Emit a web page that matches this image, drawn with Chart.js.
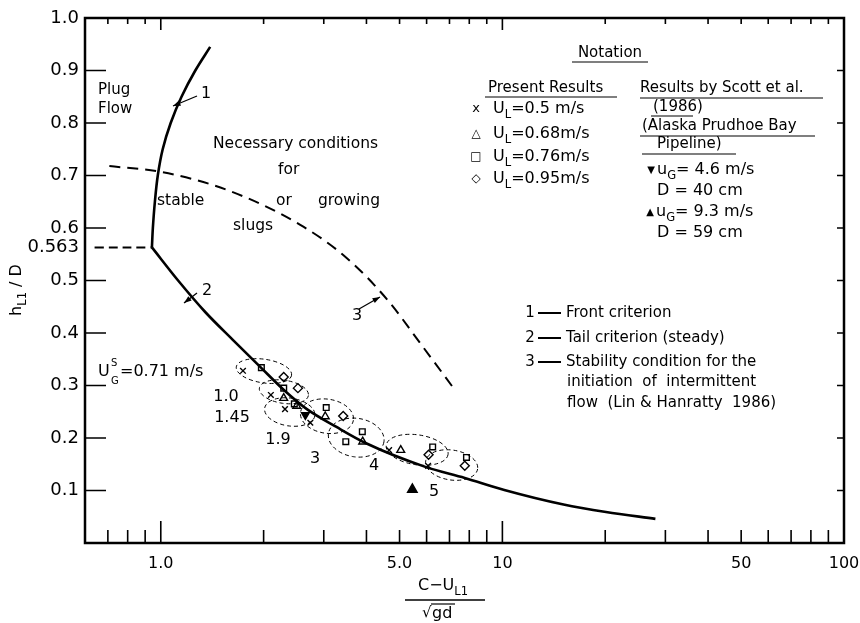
<!DOCTYPE html>
<html>
<head>
<meta charset="utf-8">
<script src="https://cdn.jsdelivr.net/npm/chart.js@4.4.1/dist/chart.umd.min.js"></script>
<style>
  html, body { margin: 0; padding: 0; background: #fff; }
</style>
</head>
<body>
<canvas id="chart" width="860" height="623"></canvas>
<script>
const FONT = '"DejaVu Sans", sans-serif';

// axis ranges and ticks
const xMin = 0.64;
const xMax = 100;
const xTickValues = [1, 5, 10, 50, 100];
const xTickLabels = ['1.0', '5.0', '10', '50', '100'];
const xMinorTicks = [0.7, 0.8, 0.9, 2, 3, 4, 5, 6, 7, 8, 9, 20, 30, 40, 50, 60, 70, 80, 90];
const xMajorTicks = [1, 10];
const yTickValues = [0.1, 0.2, 0.3, 0.4, 0.5, 0.563, 0.6, 0.7, 0.8, 0.9, 1.0];
const yMarkTicks = [0.1, 0.2, 0.3, 0.4, 0.5, 0.6, 0.7, 0.8, 0.9];

// curve 1 - front criterion
const frontX = [0.942, 0.948, 0.961, 0.98, 1.013, 1.069, 1.15, 1.262, 1.395];
const frontY = [0.563, 0.6, 0.65, 0.7, 0.75, 0.8, 0.85, 0.9, 0.945];

// curve 2 - tail criterion (steady)
const tailX = [0.942, 1.127, 1.349, 1.625, 1.958, 2.297, 2.677, 3.268, 3.99, 5.95, 7.76, 10.13, 15.1, 20.1, 28.05];
const tailY = [0.563, 0.499, 0.44, 0.387, 0.335, 0.291, 0.255, 0.221, 0.19, 0.145, 0.124, 0.101, 0.0733, 0.059, 0.046];

// curve 3 - stability condition (Lin & Hanratty 1986)
const stabX = [0.707, 1.0, 1.57, 2.56, 3.5, 4.61, 5.8, 7.27];
const stabY = [0.718, 0.707, 0.672, 0.606, 0.543, 0.463, 0.377, 0.291];

// plug flow boundary at h/D = 0.563
const plugX = [xMin, 0.942];
const plugY = [0.563, 0.563];

// present results
const ul050X = [1.74, 2.10, 2.31, 2.74, 4.66, 6.06];
const ul050Y = [0.328, 0.282, 0.255, 0.229, 0.177, 0.147];
const ul068X = [2.29, 2.50, 3.03, 3.90, 5.04];
const ul068Y = [0.276, 0.261, 0.241, 0.193, 0.177];
const ul076X = [1.97, 2.29, 2.46, 3.05, 3.48, 3.89, 6.25, 7.85];
const ul076Y = [0.334, 0.295, 0.265, 0.258, 0.193, 0.212, 0.183, 0.163];
const ul095X = [2.29, 2.52, 3.42, 6.08, 7.76];
const ul095Y = [0.316, 0.295, 0.242, 0.168, 0.147];

// Scott et al. (1986)
const scott46X = [2.65];
const scott46Y = [0.244];
const scott93X = [5.45];
const scott93Y = [0.102];

// groups of equal superficial gas velocity: x range and y range
const groupXLo = [1.66, 1.94, 2.01, 2.56, 3.09, 4.56, 5.95];
const groupXHi = [2.42, 2.71, 2.83, 3.67, 4.51, 6.95, 8.48];
const groupYLo = [0.305, 0.266, 0.223, 0.209, 0.164, 0.149, 0.12];
const groupYHi = [0.350, 0.310, 0.276, 0.274, 0.2375, 0.206, 0.177];

const pts = (xs, ys) => xs.map((x, i) => ({ x, y: ys[i] }));

function curve(xs, ys, dash, smooth) {
  return {
    data: pts(xs, ys), showLine: true, pointRadius: 0,
    borderColor: '#000', borderWidth: dash ? 2 : 2.6, borderDash: dash || [],
    tension: 0.35, cubicInterpolationMode: smooth || 'default', fill: false
  };
}

function marks(xs, ys, style, opts = {}) {
  return Object.assign({
    data: pts(xs, ys), showLine: false, pointStyle: style, pointRadius: 4.5,
    borderColor: '#000', backgroundColor: 'rgba(0,0,0,0)', pointBorderWidth: 1.4
  }, opts);
}

function rich(ctx, x, y, parts, size, align) {
  const widths = parts.map(p => {
    const s = typeof p === 'string' ? size : size * 0.72;
    ctx.font = `${s}px ${FONT}`;
    const t = typeof p === 'string' ? p : p.t;
    return ctx.measureText(t).width;
  });
  let total = widths.reduce((a, b) => a + b, 0);
  let cx = align === 'center' ? x - total / 2 : x;
  ctx.textBaseline = 'middle';
  ctx.textAlign = 'left';
  parts.forEach((p, i) => {
    if (typeof p === 'string') {
      ctx.font = `${size}px ${FONT}`;
      ctx.fillText(p, cx, y);
    } else {
      ctx.font = `${size * 0.72}px ${FONT}`;
      const dy = p.sup ? -size * 0.42 : size * 0.35;
      ctx.fillText(p.t, cx, y + dy);
    }
    cx += widths[i];
  });
  return cx;
}

function text(ctx, s, x, y, size, align) {
  ctx.font = `${size}px ${FONT}`;
  ctx.textAlign = align || 'left';
  ctx.textBaseline = 'middle';
  ctx.fillText(s, x, y);
}

function hline(ctx, x1, x2, y, w) {
  ctx.lineWidth = w || 1.2;
  ctx.beginPath(); ctx.moveTo(x1, y); ctx.lineTo(x2, y); ctx.stroke();
}

function arrow(ctx, x1, y1, x2, y2) {
  ctx.lineWidth = 1.3;
  ctx.beginPath(); ctx.moveTo(x1, y1); ctx.lineTo(x2, y2); ctx.stroke();
  const a = Math.atan2(y2 - y1, x2 - x1);
  ctx.beginPath();
  ctx.moveTo(x2, y2);
  ctx.lineTo(x2 - 8 * Math.cos(a - 0.35), y2 - 8 * Math.sin(a - 0.35));
  ctx.lineTo(x2 - 8 * Math.cos(a + 0.35), y2 - 8 * Math.sin(a + 0.35));
  ctx.closePath(); ctx.fill();
}

const decor = {
  id: 'decor',
  afterDatasetsDraw(chart) {
    const { ctx, chartArea: a, scales: { x, y } } = chart;
    ctx.save();
    ctx.strokeStyle = '#000';
    ctx.fillStyle = '#000';

    // frame
    ctx.lineWidth = 2.5;
    ctx.strokeRect(a.left, a.top, a.right - a.left, a.bottom - a.top);

    // inward ticks
    ctx.lineWidth = 1.6;
    ctx.beginPath();
    xMinorTicks.concat(xMajorTicks).forEach(v => {
      const px = x.getPixelForValue(v);
      const major = xMajorTicks.includes(v);
      ctx.moveTo(px, a.bottom); ctx.lineTo(px, a.bottom - (major ? 22 : 13));
      ctx.moveTo(px, a.top); ctx.lineTo(px, a.top + (major ? 12 : 6));
    });
    yMarkTicks.forEach(v => {
      const py = y.getPixelForValue(v);
      ctx.moveTo(a.left, py); ctx.lineTo(a.left + 21, py);
      ctx.moveTo(a.right, py); ctx.lineTo(a.right - 7, py);
    });
    ctx.stroke();

    // dashed ellipses around groups
    ctx.lineWidth = 1;
    ctx.setLineDash([4, 3]);
    groupXLo.forEach((lo, i) => {
      const x0 = x.getPixelForValue(lo), x1 = x.getPixelForValue(groupXHi[i]);
      const y0 = y.getPixelForValue(groupYHi[i]), y1 = y.getPixelForValue(groupYLo[i]);
      ctx.beginPath();
      ctx.ellipse((x0 + x1) / 2, (y0 + y1) / 2, (x1 - x0) / 2, (y1 - y0) / 2, 0.15, 0, Math.PI * 2);
      ctx.stroke();
    });
    ctx.setLineDash([]);

    // region texts
    text(ctx, 'Plug', 98, 90, 15);
    text(ctx, 'Flow', 98, 109, 15);
    text(ctx, 'Necessary conditions', 213, 144, 15.5);
    text(ctx, 'for', 278, 170, 15.5);
    text(ctx, 'stable', 157, 201, 15.5);
    text(ctx, 'or', 276, 201, 15.5);
    text(ctx, 'growing', 318, 201, 15.5);
    text(ctx, 'slugs', 233, 226, 15.5);

    // curve labels with arrows
    text(ctx, '1', 201, 94, 16);
    arrow(ctx, 197, 96, 173, 106);
    text(ctx, '2', 202, 291, 16);
    arrow(ctx, 197, 293, 184, 303);
    text(ctx, '3', 352, 316, 16);
    arrow(ctx, 359, 309, 380, 297);

    // superficial gas velocity
    ctx.font = `16px ${FONT}`;
    ctx.textAlign = 'left'; ctx.textBaseline = 'middle';
    ctx.fillText('U', 98, 372);
    ctx.font = `10px ${FONT}`;
    ctx.fillText('S', 111, 363);
    ctx.fillText('G', 111, 381);
    text(ctx, '=0.71 m/s', 120, 372, 16);
    text(ctx, '1.0', 226, 397, 16, 'center');
    text(ctx, '1.45', 232, 418, 16, 'center');
    text(ctx, '1.9', 278, 440, 16, 'center');
    text(ctx, '3', 315, 459, 16, 'center');
    text(ctx, '4', 374, 466, 16, 'center');
    text(ctx, '5', 434, 492, 16, 'center');

    // notation block
    text(ctx, 'Notation', 610, 53, 15, 'center');
    hline(ctx, 572, 648, 62);
    text(ctx, 'Present Results', 488, 88, 15);
    hline(ctx, 485, 617, 97);
    const ulRows = [['x', '=0.5 m/s', 109], ['\u25B3', '=0.68m/s', 134], ['\u25A1', '=0.76m/s', 157], ['\u25C7', '=0.95m/s', 179]];
    ulRows.forEach(([m, t, yy]) => {
      text(ctx, m, 476, yy, m === 'x' ? 13 : 12, 'center');
      rich(ctx, 493, yy, ['U', { t: 'L' }, t], 16);
    });
    text(ctx, 'Results by Scott et al.', 640, 88, 15);
    hline(ctx, 640, 823, 98);
    text(ctx, '(1986)', 653, 107, 15);
    hline(ctx, 651, 693, 116);
    text(ctx, '(Alaska Prudhoe Bay', 642, 126, 15);
    hline(ctx, 640, 815, 136);
    text(ctx, 'Pipeline)', 657, 144, 15);
    hline(ctx, 642, 736, 154);
    text(ctx, '\u25BC', 651, 170, 10, 'center');
    rich(ctx, 657, 170, ['u', { t: 'G' }, '= 4.6 m/s'], 16);
    text(ctx, 'D = 40 cm', 657, 191, 16);
    text(ctx, '\u25B2', 650, 212, 10, 'center');
    rich(ctx, 656, 212, ['u', { t: 'G' }, '= 9.3 m/s'], 16);
    text(ctx, 'D = 59 cm', 657, 233, 16);

    // curve legend
    const legendRows = [['1', 'Front criterion', 313], ['2', 'Tail criterion (steady)', 338], ['3', 'Stability condition for the', 362]];
    legendRows.forEach(([n, t, yy]) => {
      text(ctx, n, 530, yy, 15, 'center');
      hline(ctx, 538, 561, yy, 2);
      text(ctx, t, 566, yy, 15);
    });
    text(ctx, 'initiation  of  intermittent', 567, 382, 15);
    text(ctx, 'flow  (Lin & Hanratty  1986)', 567, 403, 15);

    // x axis title
    rich(ctx, 443, 586, ['C\u2212U', { t: 'L1' }], 16, 'center');
    hline(ctx, 405, 485, 600, 1.4);
    text(ctx, '\u221A', 422, 613, 15);
    text(ctx, 'gd', 432, 614, 16);
    hline(ctx, 431, 455, 604, 1.2);

    // y axis title
    ctx.translate(17, 290);
    ctx.rotate(-Math.PI / 2);
    rich(ctx, 0, 0, ['h', { t: 'L1' }, ' / D'], 16, 'center');
    ctx.restore();
  }
};

new Chart(document.getElementById('chart'), {
  type: 'scatter',
  data: {
    datasets: [
      curve(frontX, frontY),
      curve(tailX, tailY, null, 'monotone'),
      curve(stabX, stabY, [11, 7], 'monotone'),
      curve(plugX, plugY, [9, 5]),
      marks(ul050X, ul050Y, 'crossRot', { pointRadius: 4 }),
      marks(ul068X, ul068Y, 'triangle'),
      marks(ul076X, ul076Y, 'rect', { pointRadius: 4 }),
      marks(ul095X, ul095Y, 'rectRot'),
      marks(scott46X, scott46Y, 'triangle', { backgroundColor: '#000', rotation: 180, pointRadius: 4.5 }),
      marks(scott93X, scott93Y, 'triangle', { backgroundColor: '#000', pointRadius: 5.5 })
    ]
  },
  options: {
    responsive: false,
    animation: false,
    layout: { padding: { top: 18, right: 16, left: 0, bottom: 0 } },
    plugins: { legend: { display: false }, tooltip: { enabled: false } },
    scales: {
      x: {
        type: 'logarithmic', min: xMin, max: xMax,
        grid: { display: false, drawTicks: false }, border: { display: false },
        afterBuildTicks: s => { s.ticks = xTickValues.map(v => ({ value: v })); },
        afterFit: s => { s.height = 80; s.paddingLeft = 0; s.paddingRight = 0; },
        ticks: {
          autoSkip: false, maxRotation: 0, padding: 11, color: '#000',
          font: { family: FONT, size: 16 },
          callback: v => { const i = xTickValues.indexOf(v); return i < 0 ? '' : xTickLabels[i]; }
        }
      },
      y: {
        min: 0, max: 1,
        grid: { display: false, drawTicks: false }, border: { display: false },
        afterBuildTicks: s => { s.ticks = yTickValues.map(v => ({ value: v })); },
        afterFit: s => { s.width = 85; s.paddingTop = 0; s.paddingBottom = 0; },
        ticks: {
          autoSkip: false, padding: 6, color: '#000',
          font: { family: FONT, size: 18 },
          callback: v => v === 0.563 ? '0.563' : v.toFixed(1)
        }
      }
    }
  },
  plugins: [decor]
});
</script>
</body>
</html>
